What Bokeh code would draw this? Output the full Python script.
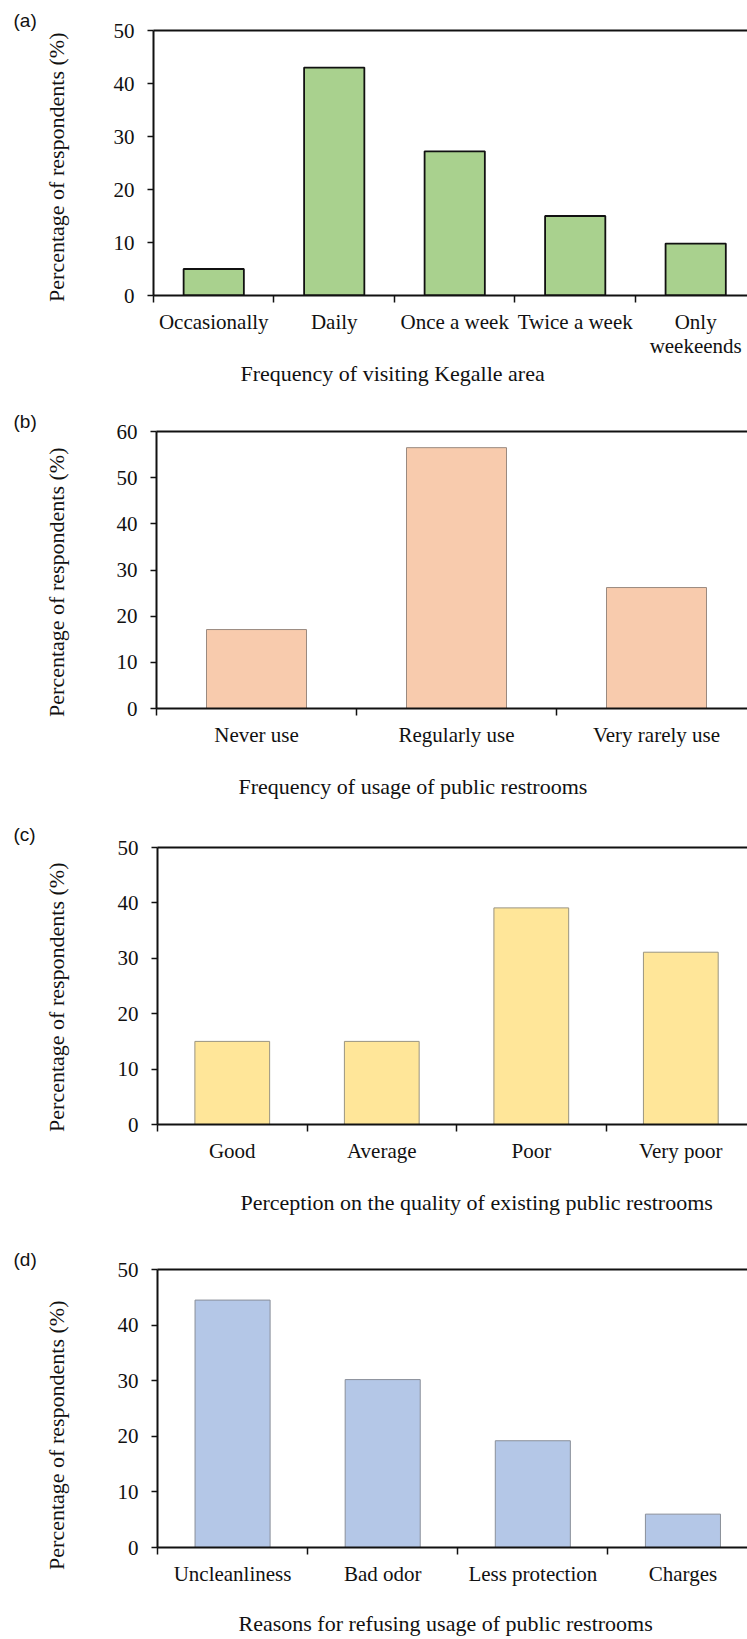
from bokeh.plotting import figure
from bokeh.models import Range1d, FixedTicker, LinearAxis, Title
from bokeh.layouts import column, row
from bokeh.embed import file_html
from bokeh.resources import INLINE

# ---------------- data ----------------
a_categories = ["Occasionally", "Daily", "Once a week", "Twice a week", "Only\nweekeends"]
a_values = [5.0, 43.0, 27.2, 15.0, 9.8]
a_yticks = [0, 10, 20, 30, 40, 50]
a_xtitle = "Frequency of visiting Kegalle area"

b_categories = ["Never use", "Regularly use", "Very rarely use"]
b_values = [17.1, 56.5, 26.2]
b_yticks = [0, 10, 20, 30, 40, 50, 60]
b_xtitle = "Frequency of usage of public restrooms"

c_categories = ["Good", "Average", "Poor", "Very poor"]
c_values = [15.0, 15.0, 39.1, 31.1]
c_yticks = [0, 10, 20, 30, 40, 50]
c_xtitle = "Perception on the quality of existing public restrooms"

d_categories = ["Uncleanliness", "Bad odor", "Less protection", "Charges"]
d_values = [44.5, 30.2, 19.2, 6.0]
d_yticks = [0, 10, 20, 30, 40, 50]
d_xtitle = "Reasons for refusing usage of public restrooms"

ytitle = "Percentage of respondents (%)"

SERIF = "Liberation Serif"
SANS = "Liberation Sans"
INK = "#111111"


def panel(cats, vals, yticks, xend, fill, lc, lw, height, bl, bt, bb,
          letter, letter_off, letter_gap, yt_off, y_gap, xtitle, xt_off, x_gap, lab_lh):
    p = figure(width=747, height=height, output_backend="svg", toolbar_location=None,
               x_range=Range1d(0, xend), y_range=Range1d(yticks[0], yticks[-1]),
               min_border_left=bl, min_border_right=0, min_border_top=bt,
               min_border_bottom=bb, x_axis_type=None, y_axis_type=None)
    p.outline_line_color = None
    p.background_fill_color = "white"
    p.border_fill_color = "white"

    centers = [i + 0.5 for i in range(len(cats))]
    p.vbar(x=centers, top=vals, bottom=0, width=0.5, fill_color=fill,
           line_color=lc, line_width=lw)

    # category axis: labels at the bar centres, tick marks between categories
    xaxis = LinearAxis(ticker=FixedTicker(ticks=centers,
                                          minor_ticks=list(range(len(cats) + 1))),
                       major_label_overrides={c: t for c, t in zip(centers, cats)})
    xaxis.axis_line_width = 2
    xaxis.axis_line_color = INK
    xaxis.major_tick_out = 0
    xaxis.major_tick_in = 0
    xaxis.minor_tick_out = 7
    xaxis.minor_tick_in = 0
    xaxis.minor_tick_line_width = 1.5
    xaxis.minor_tick_line_color = INK
    xaxis.major_label_standoff = 7
    xaxis.major_label_text_font = SERIF
    xaxis.major_label_text_font_size = "21px"
    xaxis.major_label_text_line_height = lab_lh
    xaxis.major_label_text_color = INK
    if x_gap > 0:
        # invisible spacer between tick labels and the x title
        xaxis.axis_label = " "
        xaxis.axis_label_standoff = x_gap
        xaxis.axis_label_text_font_size = "1px"
    p.add_layout(xaxis, "below")

    yaxis = LinearAxis(ticker=FixedTicker(ticks=yticks))
    yaxis.axis_line_width = 2
    yaxis.axis_line_color = INK
    yaxis.major_tick_out = 6
    yaxis.major_tick_in = 0
    yaxis.major_tick_line_width = 1.5
    yaxis.major_tick_line_color = INK
    yaxis.minor_tick_out = 0
    yaxis.minor_tick_in = 0
    yaxis.major_label_standoff = 13
    yaxis.major_label_text_font = SERIF
    yaxis.major_label_text_font_size = "21px"
    yaxis.major_label_text_color = INK
    # invisible spacer between tick labels and the y title
    yaxis.axis_label = " "
    yaxis.axis_label_standoff = y_gap
    yaxis.axis_label_text_font_size = "1px"
    p.add_layout(yaxis, "left")

    # top frame line
    top = LinearAxis(ticker=FixedTicker(ticks=[]))
    top.axis_line_width = 2
    top.axis_line_color = INK
    top.major_tick_out = 0
    top.major_tick_in = 0
    top.minor_tick_out = 0
    top.minor_tick_in = 0
    top.major_label_text_font_size = "0px"
    top.major_label_standoff = 0
    p.add_layout(top, "above")

    # panel letter
    p.title.text = letter
    p.title.align = "left"
    p.title.offset = letter_off
    p.title.standoff = letter_gap
    p.title.text_font = SANS
    p.title.text_font_size = "19px"
    p.title.text_font_style = "normal"
    p.title.text_color = INK

    # y title
    p.add_layout(Title(text=ytitle, align="right", offset=yt_off, standoff=0,
                       vertical_align="bottom",
                       text_font=SERIF, text_font_size="22px",
                       text_font_style="normal", text_color=INK), "left")
    # x title
    p.add_layout(Title(text=xtitle, align="left", offset=xt_off, standoff=0,
                       vertical_align="top",
                       text_font=SERIF, text_font_size="22px",
                       text_font_style="normal", text_color=INK), "below")
    return p


pa = panel(a_categories, a_values, a_yticks, 4.93, "#a9d18e", INK, 1.8,
           403, 153, 30, 108, "(a)", -140, 0, 2, 38, a_xtitle, 87, 0, 1.0)
pb = panel(b_categories, b_values, b_yticks, 2.955, "#f8cbad", "#9a8a80", 1,
           410, 156, 28, 105, "(b)", -143, 0, 16, 41, b_xtitle, 82, 20, 1.2)
pc = panel(c_categories, c_values, c_yticks, 3.946, "#ffe699", "#9a9480", 1,
           420, 157, 34, 109, "(c)", -144, 6, 15, 42, c_xtitle, 83, 20, 1.2)
pd = panel(d_categories, d_values, d_yticks, 3.93, "#b4c7e7", "#8a8f99", 1,
           406, 157, 36, 92, "(d)", -144, 0, 31, 42, d_xtitle, 81, 18, 1.2)

# each figure in its own row so that the column does not align their frames
layout = column(row(pa), row(pb), row(pc), row(pd), spacing=0)
open("out.html", "w").write(file_html(layout, INLINE))
